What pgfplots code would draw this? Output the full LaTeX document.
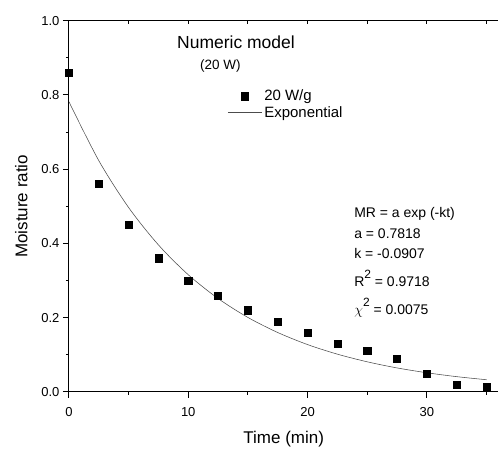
\documentclass[border=0pt]{standalone}
\usepackage{fontspec}
\setmainfont{Liberation Sans}
\usepackage{pgfplots}
\pgfplotsset{compat=1.18}

% measured points and the fitted curve MR = 0.7818 exp(-0.0907 t), tabulated
\pgfplotstableread{
t    mr
0    0.86
2.5  0.56
5    0.45
7.5  0.36
10   0.30
12.5 0.26
15   0.22
17.5 0.19
20   0.16
22.5 0.13
25   0.11
27.5 0.09
30   0.05
32.5 0.02
35   0.013
}\measured
\pgfplotstableread{
t    mr
0    0.7818
2.5  0.6232
5    0.4968
7.5  0.3960
10   0.3156
12.5 0.2516
15   0.2005
17.5 0.1599
20   0.1274
22.5 0.1016
25   0.0810
27.5 0.0645
30   0.0515
32.5 0.0410
35   0.0327
}\fitted

\begin{document}
\begin{tikzpicture}
\begin{axis}[
    name=ax,
    scale only axis,
    width=430pt, height=371.6pt,
    xmin=0, xmax=36, ymin=0, ymax=1,
    axis x line*=bottom, axis y line*=left,
    axis line style={line width=1.1pt},
    tick align=outside,
    major tick length=6pt, minor tick length=3pt,
    tick style={line width=0.9pt, black},
    xtick={0,10,20,30}, minor xtick={5,15,25,35},
    ytick={0,0.2,0.4,0.6,0.8,1.0}, minor ytick={0.1,0.3,0.5,0.7,0.9},
    yticklabel style={/pgf/number format/.cd, fixed, fixed zerofill, precision=1},
    /pgf/number format/assume math mode=true,
    ticklabel style={font=\fontsize{13}{15}\selectfont},
    xticklabel style={yshift=-6pt},
    xlabel={Time (min)}, ylabel={Moisture ratio},
    label style={font=\fontsize{17}{20}\selectfont},
    xlabel style={yshift=-8pt},
    ylabel style={yshift=7pt},
    legend style={at={(axis cs:13.2,0.822)}, anchor=north west, draw=none, fill=none,
        font=\fontsize{15}{18}\selectfont, row sep=0pt, inner sep=1pt},
    legend cell align=left,
    legend image code/.code={\draw[mark repeat=2, mark phase=2, #1]
        plot coordinates {(0cm,0cm) (0.6cm,0cm) (1.2cm,0cm)};},
]
\addplot[only marks, mark=square*, mark size=3.6pt, black] table[x=t, y=mr] {\measured};
\addlegendentry{20 W/g}
\addplot[black!70, line width=0.55pt, smooth, no marks] table[x=t, y=mr] {\fitted};
\addlegendentry{Exponential}

\node[font=\fontsize{17.5}{20}\selectfont] at (axis cs:14.0,0.943) {Numeric model};
\node[font=\fontsize{13.5}{15}\selectfont] at (axis cs:12.7,0.878) {(20 W)};

\begin{scope}[every node/.style={anchor=base west, inner sep=0pt, font=\fontsize{14}{16}\selectfont}]
\node at (axis cs:23.9,0.469) {MR = a exp (-kt)};
\node at (axis cs:23.9,0.414) {a = 0.7818};
\node at (axis cs:23.9,0.358) {k = -0.0907};
\node at (axis cs:23.9,0.283) {R\raisebox{1.1ex}{\fontsize{12}{12}\selectfont 2} = 0.9718};
\node at (axis cs:23.9,0.208) {\(\chi\)\raisebox{1.1ex}{\fontsize{12}{12}\selectfont 2} = 0.0075};
\end{scope}
\end{axis}
\begin{axis}[
    scale only axis,
    width=430pt, height=371.6pt,
    xmin=0, xmax=36, ymin=0, ymax=1,
    axis x line*=top, axis y line=none,
    axis line style={line width=1.1pt},
    tick align=inside,
    major tick length=3pt,
    tick style={line width=0.9pt, black},
    xtick={5,10,15,20,25,30,35},
    xticklabels={},
]
\end{axis}
\path ([xshift=-69pt, yshift=-55.7pt]ax.south west) rectangle ([yshift=20.7pt]ax.north east);
\end{tikzpicture}
\end{document}
